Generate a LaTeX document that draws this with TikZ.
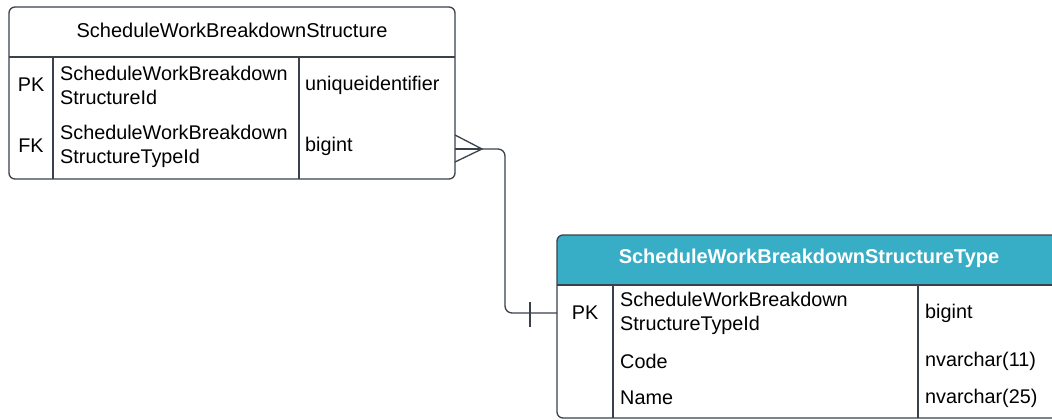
\documentclass[tikz,border=0pt]{standalone}
\usepackage{fontspec}
\setmainfont{Liberation Sans}
\begin{document}
\begin{tikzpicture}[x=1pt,y=-1pt,
  line color/.style={draw=lineclr, line width=1.3pt},
  cell/.style={anchor=west, inner sep=0pt, font=\fontsize{19.8}{24}\selectfont, align=left, text=black},
  keycell/.style={anchor=center, inner sep=0pt, font=\fontsize{19.8}{24}\selectfont, text=black},
  hdr/.style={anchor=center, inner sep=0pt, font=\fontsize{20}{24}\selectfont},
  rel/.style={draw=lineclr, line width=1.3pt}]
\definecolor{lineclr}{HTML}{3A414A}
\definecolor{teal}{HTML}{37AEC6}
\useasboundingbox (0,0) rectangle (1052,420);
\clip (0,0) rectangle (1052,420);
\fill[white] (0,0) rectangle (1052,420);

% ---- Left table ----
\draw[line color, fill=white, rounded corners=6pt] (9,7) rectangle (455,179);
\draw[line color] (9,57) -- (455,57);
\draw[line color] (53,57) -- (53,179);
\draw[line color] (299,57) -- (299,179);
\node[hdr] (lhdr) at (232,30) {ScheduleWorkBreakdownStructure};
\node[keycell] (lpk) at (31,85) {PK};
\node[cell] (lpkname) at (60,85) {ScheduleWorkBreakdown\\StructureId};
\node[cell] (lpktype) at (305,85) {uniqueidentifier};
\node[keycell] (lfk) at (31,146) {FK};
\node[cell] (lfkname) at (60,146) {ScheduleWorkBreakdown\\StructureTypeId};
\node[cell] (lfktype) at (305,146) {bigint};

% ---- Right table ----
\fill[teal, rounded corners=6pt] (557,235) rectangle (1061,285);
\fill[teal] (557,270) rectangle (1061,285);
\draw[line color, rounded corners=6pt] (557,235) rectangle (1061,418);
\draw[line color] (557,285) -- (1061,285);
\draw[line color] (613,285) -- (613,418);
\draw[line color] (918,285) -- (918,418);
\node[hdr, text=white, font=\fontsize{20}{24}\selectfont\bfseries] (rhdr) at (809,258) {ScheduleWorkBreakdownStructureType};
\node[keycell] (rpk) at (585,313) {PK};
\node[cell] (rpkname) at (620,313) {ScheduleWorkBreakdown\\StructureTypeId};
\node[cell] (rpktype) at (925,313) {bigint};
\node[cell] (rcode) at (620,361) {Code};
\node[cell] (rcodetype) at (925,361) {nvarchar(11)};
\node[cell] (rname) at (620,398) {Name};
\node[cell] (rnametype) at (925,398) {nvarchar(25)};

% ---- Relationship ----
\coordinate (fkEnd) at (455,149);
\coordinate (crow) at (482,149);
\coordinate (pkEnd) at (557,313);
\draw[rel] (fkEnd) -- (crow);
\draw[rel] (455,135) -- (crow) -- (455,162);
\draw[rel, rounded corners=7pt] (crow) -- (505,149) -- (505,313) -- (pkEnd);
\draw[rel] (530,302) -- (530,327);
\end{tikzpicture}
\end{document}
